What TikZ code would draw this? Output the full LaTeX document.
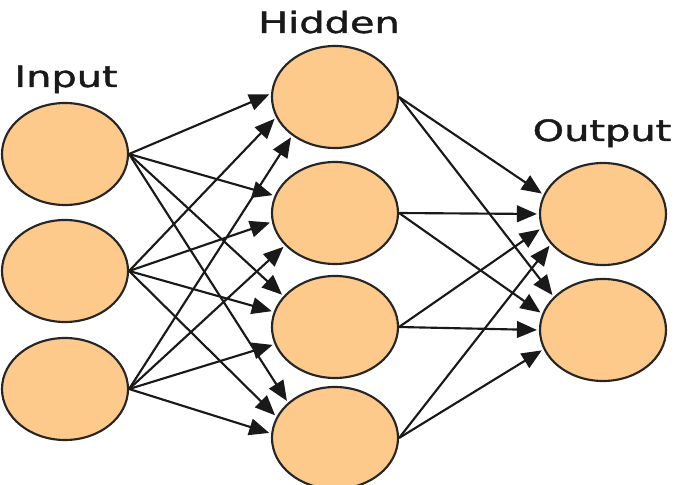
\documentclass[tikz,border=0pt]{standalone}
\usepackage{fontspec}
\setmainfont{DejaVu Sans}
\newfontfamily\labelfont[FakeBold=1.2]{DejaVu Sans}
\usetikzlibrary{shapes.geometric,arrows.meta}
\definecolor{neuron}{RGB}{253,202,140}
\tikzset{
  neuronnode/.style={ellipse,draw=black!85,fill=neuron,line width=1.6pt,minimum width=94.5pt,minimum height=76.5pt,inner sep=0pt},
  layerlabel/.style={anchor=base,inner sep=0pt,xscale=1.36,font=\labelfont\fontsize{22}{26}\selectfont,text=black!90},
  conn/.style={line width=1.6pt,draw=black!90,-{Triangle[length=15pt,width=12.5pt]},shorten >=1.5pt}
}
\begin{document}
\begin{tikzpicture}[x=0.75pt,y=-0.75pt]
\useasboundingbox (0,0) rectangle (676,485);
\clip (0,0) rectangle (676,485);
\fill[white] (0,0) rectangle (676,485);
\node[neuronnode] (i1) at (65,154) {};
\node[neuronnode] (i2) at (65,271) {};
\node[neuronnode] (i3) at (65,389) {};
\node[neuronnode] (h1) at (335,97) {};
\node[neuronnode] (h2) at (335,213) {};
\node[neuronnode] (h3) at (335,327) {};
\node[neuronnode] (h4) at (335,438) {};
\node[neuronnode] (o1) at (603,214) {};
\node[neuronnode] (o2) at (603,330) {};
\node[layerlabel] (lin) at (66,87) {Input};
\node[layerlabel] (lhid) at (329,33) {Hidden};
\node[layerlabel] (lout) at (602,141) {Output};
% input -> hidden
\foreach \h/\a/\b/\c in {h1/177/199/222,h2/164/188/213,h3/149/166/196,h4/143/160/176}{
  \draw[conn] (i1.east) -- (\h.\a);
  \draw[conn] (i2.east) -- (\h.\b);
  \draw[conn] (i3.east) -- (\h.\c);
}
% hidden -> output
\foreach \o/\a/\b/\c/\d in {o1/162/180/193/210,o2/146/165/180/198}{
  \draw[conn] (h1.east) -- (\o.\a);
  \draw[conn] (h2.east) -- (\o.\b);
  \draw[conn] (h3.east) -- (\o.\c);
  \draw[conn] (h4.east) -- (\o.\d);
}
\end{tikzpicture}
\end{document}
